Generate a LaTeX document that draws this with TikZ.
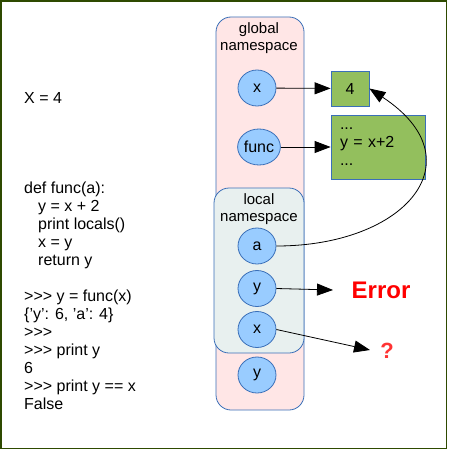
\documentclass[tikz,border=0pt]{standalone}
\usepackage{fontspec}
\setmainfont{Liberation Sans}
\usetikzlibrary{shapes.geometric,arrows.meta}

\definecolor{framegreen}{HTML}{2E4A00}
\definecolor{nsblue}{HTML}{3A6FB8}
\definecolor{varblue}{HTML}{99CCFF}
\definecolor{globalpink}{HTML}{FFE6E6}
\definecolor{localgray}{HTML}{E8F0EF}
\definecolor{objgreen}{HTML}{93BF5D}
\definecolor{qred}{HTML}{FF3333}

\tikzset{
	namespace/.style={draw=nsblue, line width=0.8pt, rounded corners=15pt, inner sep=0pt},
	var/.style={ellipse, draw=nsblue, fill=varblue, line width=0.8pt, minimum width=38pt, minimum height=36pt, inner sep=0pt, font=\fontsize{16}{18}\selectfont},
	obj/.style={draw=nsblue, fill=objgreen, line width=0.8pt, inner sep=0pt, font=\fontsize{16}{18}\selectfont},
	ref/.style={-{Triangle[length=16pt,width=12pt]}, line width=0.8pt},
	code/.style={anchor=north west, inner sep=0pt, align=left, font=\fontsize{16}{18}\selectfont}
}

\begin{document}
\begin{tikzpicture}[x=1pt,y=-1pt]
		\useasboundingbox (0,0) rectangle (451,452);
		\draw[framegreen, line width=1.6pt] (0.8,0.8) rectangle (446.5,448.5);

		% namespaces
		\node (global) at (260,213.5)[namespace, fill=globalpink, minimum width=88pt, minimum height=393pt]{} ;
		\node (globallabel) at (259,38.5)[align=center, font=\fontsize{15}{17}\selectfont]{global\\namespace} ;
		\node (local) at (259,270.5)[namespace, fill=localgray, minimum width=90pt, minimum height=165pt]{} ;
		\node (locallabel) at (259,209.5)[align=center, font=\fontsize{15}{17}\selectfont]{local\\namespace} ;

		% names
		\node (gx) at (257,88)[var]{x} ;
		\node (gfunc) at (259,147)[var]{func} ;
		\node (la) at (257,246)[var]{a} ;
		\node (ly) at (257,288.5)[var]{y} ;
		\node (lx) at (257,329.5)[var]{x} ;
		\node (gy) at (257,375)[var]{y} ;

		% objects
		\node (four) at (350,88.5)[obj, minimum width=38pt, minimum height=35pt]{4} ;
		\node (body) at (378,147)[obj, minimum width=94pt, minimum height=64pt, text width=76pt, inner xsep=9pt, align=left]{...\\y = x+2\\...} ;
		\node (err) at (381,290)[text=red, font=\fontsize{24}{26}\selectfont\bfseries]{Error} ;
		\node (what) at (387,351)[text=qred, font=\fontsize{22}{24}\selectfont\bfseries]{?} ;
		\coordinate (errtip) at (333,290) ;
		\coordinate (whattip) at (370,350) ;

		% references
		\draw[ref] (gx) -- (four) ;
		\draw[ref] (gfunc) -- (body) ;
		\draw[ref] (la.east) .. controls (406,246) and (478,160) .. (four.east) ;
		\draw[ref] (ly.east) -- (errtip) ;
		\draw[ref] (lx.east) -- (whattip) ;

		% code
		\node (assign) at (24,98)[anchor=west, inner sep=0pt, font=\fontsize{16}{18}\selectfont]{X = 4} ;
		\node (session) at (24,181.5)[code]{def func(a):\\
			\hspace*{14pt}y = x + 2\\
			\hspace*{14pt}print locals()\\
			\hspace*{14pt}x = y\\
			\hspace*{14pt}return y\\[18pt]
			>{}>{}> y = func(x)\\
			\{'y': 6, 'a': 4\}\\
			>{}>{}>\\
			>{}>{}> print y\\
			6\\
			>{}>{}> print y == x\\
			False} ;
\end{tikzpicture}
\end{document}
